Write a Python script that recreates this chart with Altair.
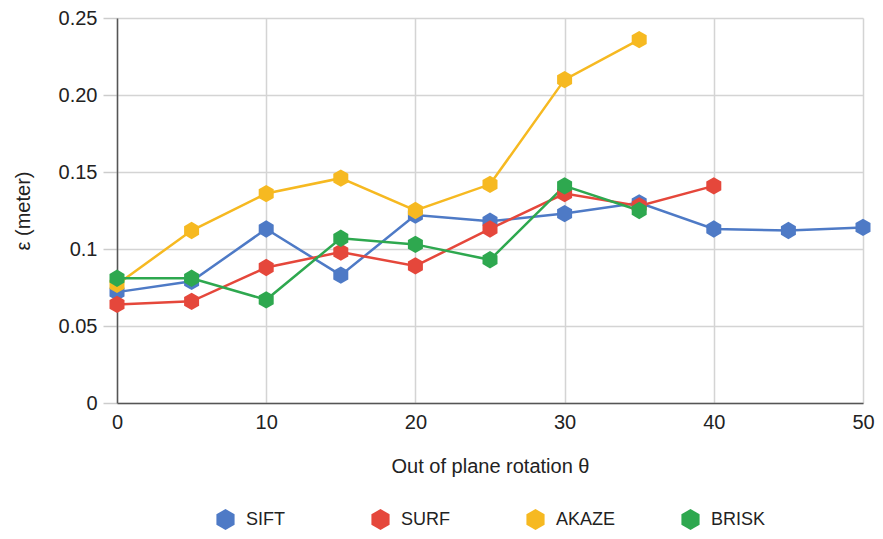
import altair as alt
import pandas as pd

x_vals = [0, 5, 10, 15, 20, 25, 30, 35, 40, 45, 50]
sift = [0.072, 0.079, 0.113, 0.083, 0.122, 0.118, 0.123, 0.130, 0.113, 0.112, 0.114]
surf = [0.064, 0.066, 0.088, 0.098, 0.089, 0.113, 0.136, 0.128, 0.141]
akaze = [0.077, 0.112, 0.136, 0.146, 0.125, 0.142, 0.210, 0.236]
brisk = [0.081, 0.081, 0.067, 0.107, 0.103, 0.093, 0.141, 0.125]

methods = ["SIFT", "SURF", "AKAZE", "BRISK"]
colors = ["#4e7ac6", "#e5473b", "#f6b921", "#2ea84f"]
y_ticks = [0, 0.05, 0.1, 0.15, 0.2, 0.25]
y_tick_labels = ["0", "0.05", "0.1", "0.15", "0.20", "0.25"]
x_ticks = [0, 10, 20, 30, 40, 50]

rows = []
for name, vals in zip(methods, [sift, surf, akaze, brisk]):
    for i, v in enumerate(vals):
        rows.append({"theta": x_vals[i], "err": v, "method": name, "order": methods.index(name)})
df = pd.DataFrame(rows)

hexagon = "M0,-1L0.866,-0.5L0.866,0.5L0,1L-0.866,0.5L-0.866,-0.5Z"
font = "Liberation Sans"

label_expr = "[" + ",".join("'%s'" % s for s in y_tick_labels) + "][indexof([" + ",".join(str(v) for v in y_ticks) + "], datum.value)]"

color = alt.Color(
    "method:N",
    scale=alt.Scale(domain=methods, range=colors),
    legend=alt.Legend(
        title=None, orient="none", direction="horizontal", columns=4,
        legendX=98, legendY=491, symbolType=hexagon, symbolSize=440,
        symbolStrokeWidth=0, labelFontSize=18, labelFont=font, labelColor="#222",
        gridAlign="all", columnPadding=64, labelOffset=10,
    ),
)

x_enc = alt.X(
    "theta:Q",
    scale=alt.Scale(domain=[0, 50], nice=False),
    axis=alt.Axis(
        title="Out of plane rotation θ", values=x_ticks, ticks=False, labelFlush=False,
        labelPadding=9, titlePadding=24, grid=True,
    ),
)
y_enc = alt.Y(
    "err:Q",
    scale=alt.Scale(domain=[0, 0.25], nice=False),
    axis=alt.Axis(
        title="ε (meter)", values=y_ticks, labelExpr=label_expr,
        tickSize=14, tickColor="#cccccc", tickWidth=1.5, labelPadding=6, titlePadding=25, grid=True,
    ),
)

base = alt.Chart(df).encode(x=x_enc, y=y_enc, color=color, order=alt.Order("order:Q"))
lines = base.mark_line(strokeWidth=2.5)
points = base.mark_point(shape=hexagon, size=300, filled=True, opacity=1)

chart = (
    alt.layer(lines, points)
    .properties(width=746, height=385, autosize=alt.AutoSizeParams(type="none"),
                padding={"left": 109, "top": 10, "right": 12, "bottom": 128})
    .configure_view(stroke=None)
    .configure_axis(
        labelFont=font, titleFont=font, labelFontSize=20, titleFontSize=20,
        labelColor="#222", titleColor="#222", titleFontWeight="normal",
        gridColor="#d4d4d4", gridWidth=1.5, domainColor="#555", domainWidth=1.5,
    )
)

chart.save("out.html", embed_options={"renderer": "svg", "actions": False})
